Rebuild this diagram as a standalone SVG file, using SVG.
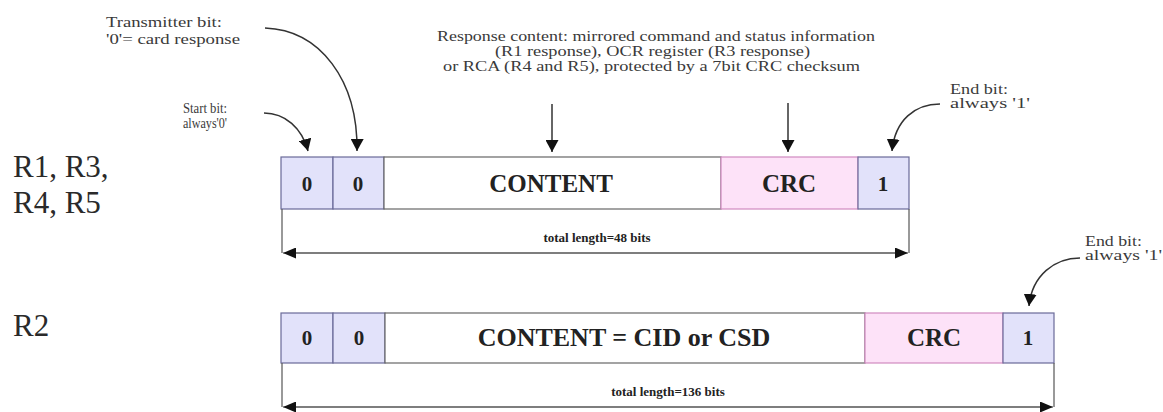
<svg xmlns="http://www.w3.org/2000/svg" width="1163" height="412" viewBox="0 0 1163 412">
<style>
.note{font-family:"Liberation Serif",serif;font-size:14px;fill:#3a3a3a}
.lbl{font-family:"Liberation Serif",serif;font-size:31px;fill:#2a2a2a}
.cell{font-family:"Liberation Serif",serif;font-weight:bold;fill:#222;text-anchor:middle}
.tot{font-family:"Liberation Serif",serif;font-weight:bold;font-size:13px;fill:#222;text-anchor:middle}
.bit{fill:#e2e2fa;stroke:#6a6a98;stroke-width:1.2}
.crc{fill:#fde2f8;stroke:#d08ac0;stroke-width:1.2}
.cont{fill:#fff;stroke:#666;stroke-width:1.2}
.con{fill:none;stroke:#333;stroke-width:1.5}
.dim{fill:none;stroke:#555;stroke-width:1.2}
</style>
<defs>
<marker id="ah" markerWidth="13" markerHeight="13" refX="12" refY="6.5" orient="auto" markerUnits="userSpaceOnUse">
<path d="M0,0 L12,6.5 L0,13 Z" fill="#111"/>
</marker>
<marker id="dh" markerWidth="14" markerHeight="11" refX="13" refY="5.5" orient="auto" markerUnits="userSpaceOnUse">
<path d="M0,0 L13,5.5 L0,11 Z" fill="#111"/>
</marker>
</defs>
<rect width="1163" height="412" fill="#fff"/>
<text class="lbl" x="13" y="177">R1, R3,</text>
<text class="lbl" x="13" y="213">R4, R5</text>
<text class="lbl" x="13" y="336">R2</text>
<g id="annot-transmitter"><text class="note" x="106" y="27" textLength="116" lengthAdjust="spacingAndGlyphs">Transmitter bit:</text><text class="note" x="106" y="44" textLength="134" lengthAdjust="spacingAndGlyphs">'0'= card response</text></g>
<g id="annot-start"><text class="note" x="183" y="113" textLength="44" lengthAdjust="spacingAndGlyphs">Start bit:</text><text class="note" x="183" y="128" textLength="44" lengthAdjust="spacingAndGlyphs">always'0'</text></g>
<g id="annot-content"><text class="note" x="437" y="41" textLength="438" lengthAdjust="spacingAndGlyphs">Response content: mirrored command and status information</text><text class="note" x="495" y="56" textLength="315" lengthAdjust="spacingAndGlyphs">(R1 response), OCR register (R3 response)</text><text class="note" x="443" y="71" textLength="417" lengthAdjust="spacingAndGlyphs">or RCA (R4 and R5), protected by a 7bit CRC checksum</text></g>
<g id="annot-end1"><text class="note" x="950" y="94" textLength="58" lengthAdjust="spacingAndGlyphs">End bit:</text><text class="note" x="950" y="108" textLength="80" lengthAdjust="spacingAndGlyphs">always '1'</text></g>
<g id="annot-end2"><text class="note" x="1085" y="246" textLength="57" lengthAdjust="spacingAndGlyphs">End bit:</text><text class="note" x="1085" y="260" textLength="77" lengthAdjust="spacingAndGlyphs">always '1'</text></g>
<g id="row1">
<rect class="bit" x="281" y="157" width="52" height="52"/>
<rect class="bit" x="333" y="157" width="51" height="52"/>
<rect class="cont" x="384" y="157" width="337" height="52"/>
<rect class="crc" x="721" y="157" width="137" height="52"/>
<rect class="bit" x="858" y="157" width="51" height="52"/>
<text class="cell" x="307" y="191" font-size="21">0</text>
<text class="cell" x="358" y="191" font-size="21">0</text>
<text class="cell" x="551" y="192" font-size="25">CONTENT</text>
<text class="cell" x="789" y="192" font-size="25">CRC</text>
<text class="cell" x="883" y="191" font-size="21">1</text>
<text class="tot" x="597" y="242">total length=48 bits</text>
</g>
<g id="row2">
<rect class="bit" x="281" y="313" width="52" height="50"/>
<rect class="bit" x="333" y="313" width="52" height="50"/>
<rect class="cont" x="385" y="313" width="480" height="50"/>
<rect class="crc" x="865" y="313" width="138" height="50"/>
<rect class="bit" x="1003" y="313" width="51" height="50"/>
<text class="cell" x="307" y="345" font-size="21">0</text>
<text class="cell" x="359" y="345" font-size="21">0</text>
<text class="cell" x="624" y="346" font-size="26">CONTENT = CID or CSD</text>
<text class="cell" x="934" y="346" font-size="25">CRC</text>
<text class="cell" x="1028" y="345" font-size="21">1</text>
<text class="tot" x="668" y="396">total length=136 bits</text>
</g>
<g id="connectors">
<path class="con" d="M265,28 C320,30 358,80 357,151" marker-end="url(#ah)"/>
<path class="con" d="M264,113 C285,113 302,128 308,151" marker-end="url(#ah)"/>
<path class="con" d="M552,104 L552,152" marker-end="url(#ah)"/>
<path class="con" d="M788,103 L788,152" marker-end="url(#ah)"/>
<path class="con" d="M940,104 C915,104 895,120 892,151" marker-end="url(#ah)"/>
<path class="con" d="M1080,258 C1055,258 1032,275 1029,306" marker-end="url(#ah)"/>
<path class="dim" d="M282,209 L282,253"/>
<path class="dim" d="M909,209 L909,253"/>
<path class="dim" d="M295,253 L908,253" marker-end="url(#dh)"/>
<path class="dim" d="M895,253 L283,253" marker-end="url(#dh)"/>
<path class="dim" d="M282,363 L282,407"/>
<path class="dim" d="M1054,363 L1054,407"/>
<path class="dim" d="M295,407 L1053,407" marker-end="url(#dh)"/>
<path class="dim" d="M1040,407 L283,407" marker-end="url(#dh)"/>
</g>
</svg>
